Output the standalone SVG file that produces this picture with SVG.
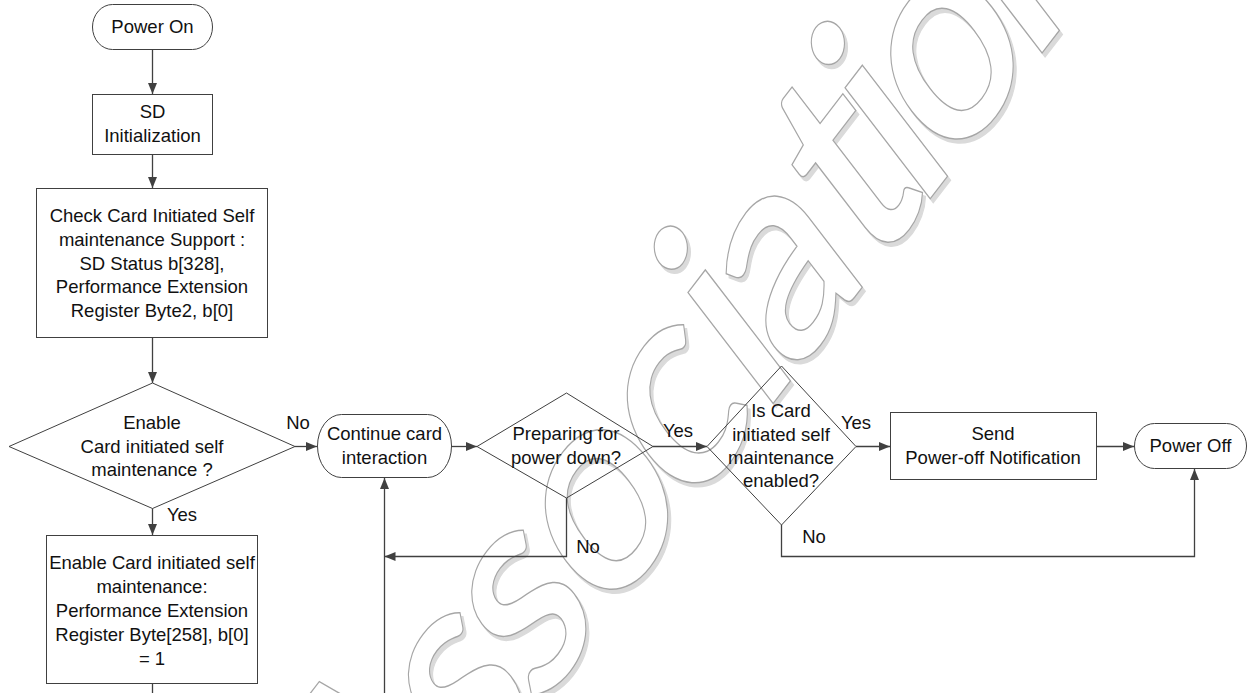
<svg xmlns="http://www.w3.org/2000/svg" width="1249" height="693" viewBox="0 0 1249 693">
<defs>
<style>
.n{fill:none;stroke:#404040;stroke-width:1}
.t{font-family:"Liberation Sans",Arial,sans-serif;font-size:18.5px;fill:#111;text-anchor:middle}
.c{fill:none;stroke:#404040;stroke-width:1.3}
.wm{font-family:Lato,"Open Sans",sans-serif;font-size:265px;font-weight:600;fill:#fff;stroke:#a6a6a6;stroke-width:1.3;text-anchor:middle}
</style>
<marker id="ah" markerUnits="userSpaceOnUse" markerWidth="12" markerHeight="10" refX="11" refY="4.5" orient="auto"><path d="M0,0 L11,4.5 L0,9 z" fill="#404040"/></marker>
<filter id="sh" filterUnits="userSpaceOnUse" x="0" y="0" width="1249" height="693"><feOffset in="SourceAlpha" dx="3" dy="3.5" result="o"/><feFlood flood-color="#dadada"/><feComposite in2="o" operator="in" result="s"/><feMerge><feMergeNode in="s"/><feMergeNode in="SourceGraphic"/></feMerge></filter>
</defs>
<rect width="1249" height="693" fill="#fff"/>
<g id="watermark" filter="url(#sh)"><text class="wm" transform="rotate(-52.5) skewX(-15)" y="859" x="-529 -393 -287 -183 -55 49 177 300 395 476.5 590 653 744.5 879.5">SD Association</text></g>
<g id="connectors">
<path class="c" d="M152.5,49.5V94" marker-end="url(#ah)"/>
<path class="c" d="M152.5,154.5V188" marker-end="url(#ah)"/>
<path class="c" d="M152.5,337.5V383" marker-end="url(#ah)"/>
<path class="c" d="M295,446.5H317" marker-end="url(#ah)"/>
<path class="c" d="M152.5,508.5V535" marker-end="url(#ah)"/>
<path class="c" d="M152.5,683.5V693"/>
<path class="c" d="M451.5,446.5H477" marker-end="url(#ah)"/>
<path class="c" d="M653,446.5H707" marker-end="url(#ah)"/>
<path class="c" d="M566.5,498V556.5H384.5" marker-end="url(#ah)"/>
<path class="c" d="M384.5,693V478" marker-end="url(#ah)"/>
<path class="c" d="M856,446.5H890" marker-end="url(#ah)"/>
<path class="c" d="M1096.5,446.5H1134" marker-end="url(#ah)"/>
<path class="c" d="M781.5,525V556.5H1194.5V469" marker-end="url(#ah)"/>
</g>
<g id="power-on"><rect class="n" x="92.5" y="4.5" width="120" height="45" rx="20" ry="22.5"/><text class="t" x="152.5" y="33">Power On</text></g>
<g id="sd-init"><rect class="n" x="92.5" y="94.5" width="120" height="60"/><text class="t" x="152.5" y="118">SD</text><text class="t" x="152.5" y="142">Initialization</text></g>
<g id="check-support"><rect class="n" x="36.5" y="188.5" width="231" height="149"/>
<text class="t" x="152" y="222">Check Card Initiated Self</text>
<text class="t" x="152" y="246">maintenance Support :</text>
<text class="t" x="152" y="270">SD Status b[328],</text>
<text class="t" x="152" y="293">Performance Extension</text>
<text class="t" x="152" y="317">Register Byte2, b[0]</text></g>
<g id="enable-decision"><polygon class="n" points="152.5,383 295,446.5 152.5,508.5 9,446.5"/>
<text class="t" x="152" y="429">Enable</text>
<text class="t" x="152" y="452.5">Card initiated self</text>
<text class="t" x="152" y="476">maintenance ?</text></g>
<g id="enable-box"><rect class="n" x="46.5" y="535.5" width="211" height="148"/>
<text class="t" x="152" y="569">Enable Card initiated self</text>
<text class="t" x="152" y="593">maintenance:</text>
<text class="t" x="152" y="617">Performance Extension</text>
<text class="t" x="152" y="641">Register Byte[258], b[0]</text>
<text class="t" x="152" y="665">= 1</text></g>
<g id="continue"><rect class="n" x="317.5" y="414.5" width="134" height="63" rx="24" ry="31.5"/>
<text class="t" x="384.5" y="440">Continue card</text>
<text class="t" x="384.5" y="464">interaction</text></g>
<g id="preparing"><polygon class="n" points="477,446.5 566.5,393 653,446.5 566.5,498"/>
<text class="t" x="566" y="440">Preparing for</text>
<text class="t" x="566" y="464">power down?</text></g>
<g id="is-enabled"><polygon class="n" points="707,446.5 781.5,366 856,446.5 781.5,525"/>
<text class="t" x="781" y="417">Is Card</text>
<text class="t" x="781" y="441">initiated self</text>
<text class="t" x="781" y="464">maintenance</text>
<text class="t" x="781" y="487">enabled?</text></g>
<g id="send"><rect class="n" x="890.5" y="412.5" width="206" height="67"/>
<text class="t" x="993" y="440">Send</text>
<text class="t" x="993" y="464">Power-off Notification</text></g>
<g id="power-off"><rect class="n" x="1134.5" y="423.5" width="112" height="45" rx="20" ry="22.5"/><text class="t" x="1190.5" y="452">Power Off</text></g>
<g id="labels">
<text class="t" x="298" y="429">No</text>
<text class="t" x="182" y="521">Yes</text>
<text class="t" x="678" y="437">Yes</text>
<text class="t" x="588" y="553">No</text>
<text class="t" x="856" y="429">Yes</text>
<text class="t" x="814" y="543">No</text>
</g>
</svg>
